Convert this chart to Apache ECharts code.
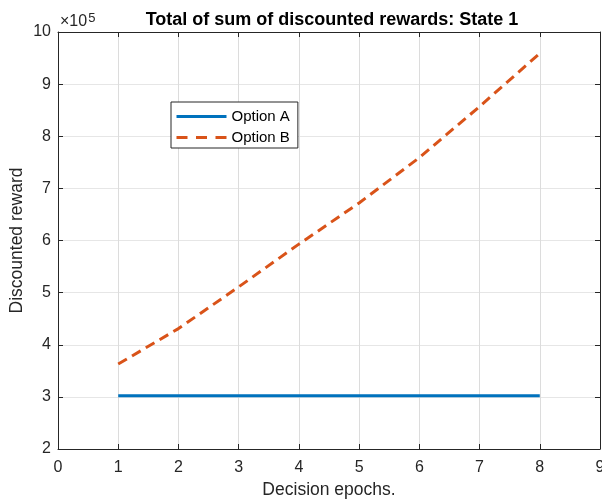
<!DOCTYPE html>
<html>
<head>
<meta charset="utf-8">
<script src="https://cdn.jsdelivr.net/npm/echarts@6/dist/echarts.min.js"></script>
<style>html,body{margin:0;padding:0;background:#fff;}#c{width:602px;height:499px;}</style>
</head>
<body>
<div id="c"></div>
<script>
var epochs = [1, 2, 3, 4, 5, 6, 7, 8];
var optionA = [302000, 302000, 302000, 302000, 302000, 302000, 302000, 302000];
var optionB = [363000, 431000, 511000, 593000, 672000, 759000, 857000, 959000];
var seriesNames = ['Option A', 'Option B'];
var xTicks = [0, 1, 2, 3, 4, 5, 6, 7, 8, 9];
var yTicks = [2, 3, 4, 5, 6, 7, 8, 9, 10];

function pairs(xs, ys) { return xs.map(function (x, i) { return [x, ys[i]]; }); }

var axisColor = '#262626';
var font = 'Arial, "Liberation Sans", Helvetica, sans-serif';
var chart = echarts.init(document.getElementById('c'), null, { renderer: 'canvas' });
chart.setOption({
  backgroundColor: '#ffffff',
  animation: false,
  title: {
    text: 'Total of sum of discounted rewards: State 1',
    left: 327, top: 6, textAlign: 'center',
    textStyle: { fontFamily: font, fontSize: 18, fontWeight: 'bold', color: '#000' }
  },
  graphic: [{
    type: 'text', left: 60, top: 12,
    style: {
      text: '×10{s|5}', fontFamily: font, fontSize: 16, fill: axisColor,
      rich: { s: { fontSize: 13, verticalAlign: 'top', padding: [0, 0, 6, 1], fontFamily: font, fill: axisColor } }
    }
  }],
  legend: {
    data: [
      { name: seriesNames[0], lineStyle: { width: 3 } },
      { name: seriesNames[1], lineStyle: { width: 3, type: [11, 8.5] } }
    ],
    orient: 'vertical', left: 171, top: 102,
    itemWidth: 50, itemHeight: 14, itemGap: 6,
    padding: [7, 8, 3, 4],
    borderColor: axisColor, borderWidth: 1, backgroundColor: '#fff',
    itemStyle: { opacity: 0 },
    textStyle: { fontFamily: font, fontSize: 15, lineHeight: 14, color: '#000' }
  },
  grid: { left: 58, right: 2, top: 32, bottom: 50, containLabel: false, outerBoundsMode: 'none' },
  xAxis: [{
    type: 'value', min: 0, max: 9, interval: 1,
    name: 'Decision epochs.', nameLocation: 'middle', nameGap: 32, nameMoveOverlap: false,
    nameTextStyle: { fontFamily: font, fontSize: 17.5, color: axisColor },
    axisLine: { show: true, onZero: false, lineStyle: { color: axisColor, width: 1 } },
    axisTick: { show: true, inside: true, length: 5, lineStyle: { color: axisColor } },
    axisLabel: { fontFamily: font, fontSize: 16, color: axisColor, margin: 11,
      formatter: function (v) { return xTicks.indexOf(v) >= 0 ? String(v) : ''; } },
    splitLine: { show: true, lineStyle: { color: '#dcdcdc', width: 1 } }
  }, {
    type: 'value', min: 0, max: 9, interval: 1, position: 'top',
    axisLine: { show: true, onZero: false, lineStyle: { color: axisColor, width: 1 } },
    axisTick: { show: true, inside: true, length: 5, lineStyle: { color: axisColor } },
    axisLabel: { show: false }, splitLine: { show: false }
  }],
  yAxis: [{
    type: 'value', min: 200000, max: 1000000, interval: 100000,
    name: 'Discounted reward', nameLocation: 'middle', nameGap: 32, nameRotate: 90, nameMoveOverlap: false,
    nameTextStyle: { fontFamily: font, fontSize: 17.5, color: axisColor },
    axisLine: { show: true, onZero: false, lineStyle: { color: axisColor, width: 1 } },
    axisTick: { show: true, inside: true, length: 5, lineStyle: { color: axisColor } },
    axisLabel: { fontFamily: font, fontSize: 16, color: axisColor, margin: 7,
      formatter: function (v) { return String(Math.round(v / 100000)); } },
    splitLine: { show: true, lineStyle: { color: '#e6e6e6', width: 1 } }
  }, {
    type: 'value', min: 200000, max: 1000000, interval: 100000, position: 'right',
    axisLine: { show: true, onZero: false, lineStyle: { color: axisColor, width: 1 } },
    axisTick: { show: true, inside: true, length: 5, lineStyle: { color: axisColor } },
    axisLabel: { show: false }, splitLine: { show: false }
  }],
  series: [{
    name: seriesNames[0], type: 'line', data: pairs(epochs, optionA),
    showSymbol: false, symbol: 'none', color: '#0072BD',
    lineStyle: { color: '#0072BD', width: 3 }
  }, {
    name: seriesNames[1], type: 'line', data: pairs(epochs, optionB),
    showSymbol: false, symbol: 'none', color: '#D95319',
    lineStyle: { color: '#D95319', width: 3, type: [10, 6] }
  }]
});
</script>
</body>
</html>
